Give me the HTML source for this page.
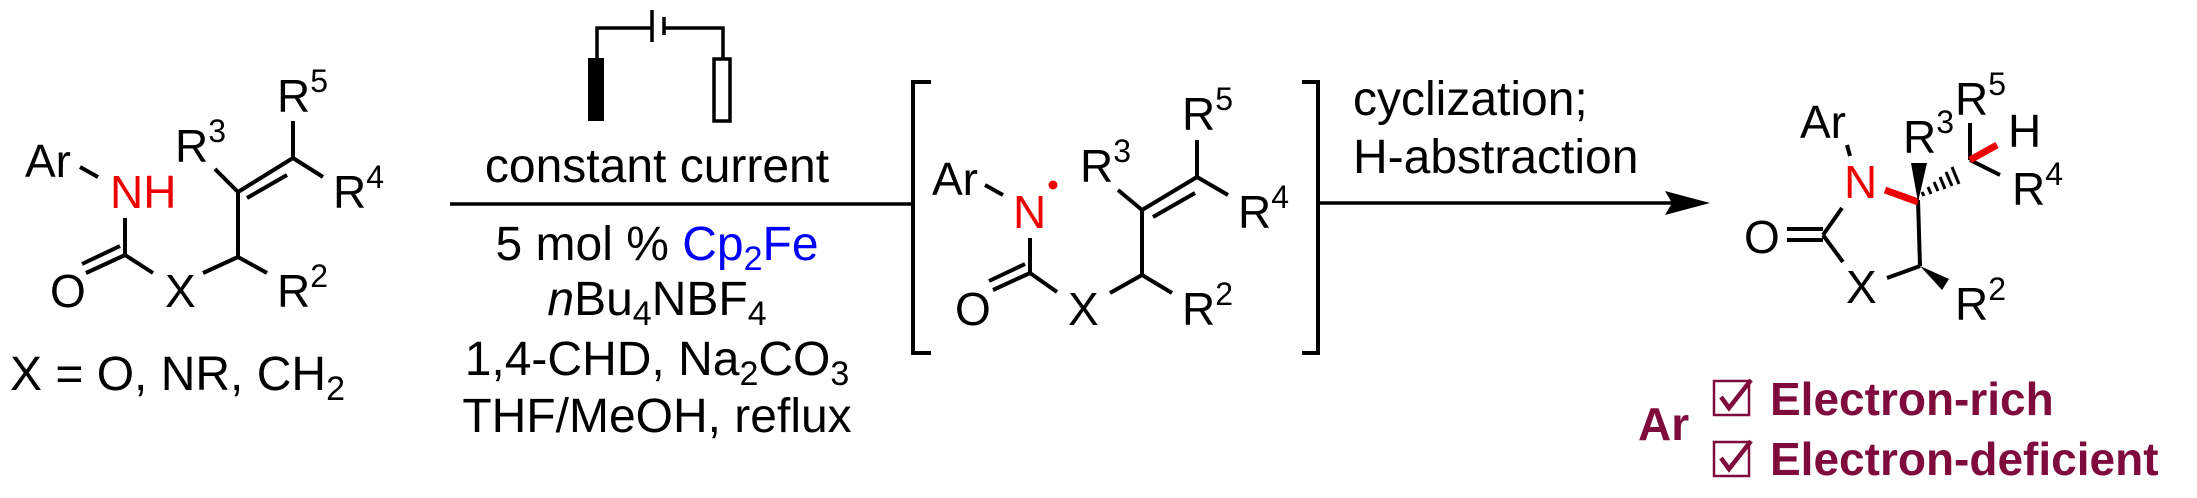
<!DOCTYPE html>
<html><head><meta charset="utf-8"><style>
html,body{margin:0;padding:0;background:#fff;}
svg{display:block;}
text{font-family:"Liberation Sans",sans-serif;}
</style></head><body>
<svg width="2197" height="498" viewBox="0 0 2197 498" xmlns="http://www.w3.org/2000/svg">
<g stroke="#000" stroke-width="4" fill="none" stroke-linecap="butt">
<!-- left molecule -->
<line x1="80" y1="167" x2="98" y2="177"/>
<line x1="125" y1="218" x2="125" y2="255"/>
<line x1="125" y1="255" x2="86" y2="273"/>
<line x1="120" y1="246" x2="82" y2="264"/>
<line x1="125" y1="255" x2="153" y2="273"/>
<line x1="203" y1="273" x2="238" y2="257"/>
<line x1="238" y1="257" x2="267" y2="273"/>
<line x1="238" y1="257" x2="238" y2="192"/>
<line x1="238" y1="192" x2="215" y2="169"/>
<line x1="238" y1="192" x2="293" y2="158"/>
<line x1="247" y1="198" x2="287" y2="175"/>
<line x1="293" y1="158" x2="293" y2="121"/>
<line x1="293" y1="158" x2="323" y2="177"/>
<!-- reaction line 1 -->
<line x1="450" y1="204" x2="912" y2="204" stroke-width="3.5"/>
<!-- electrodes -->
<polyline points="597,58 597,28 652,28" stroke-width="3.5"/>
<polyline points="664,28 723,28 723,58" stroke-width="3.5"/>
<line x1="652" y1="10" x2="652" y2="42" stroke-width="3.5"/>
<line x1="664" y1="17" x2="664" y2="35" stroke-width="3.5"/>
<rect x="714" y="59" width="16" height="62" stroke-width="3.5"/>
<!-- brackets -->
<polyline points="931,82 913,82 913,353 931,353" stroke-width="4"/>
<polyline points="1302,82 1318,82 1318,353 1302,353" stroke-width="4"/>
<!-- middle molecule -->
<line x1="985" y1="185" x2="1003" y2="195"/>
<line x1="1030" y1="238" x2="1030" y2="273"/>
<line x1="1030" y1="273" x2="993" y2="290"/>
<line x1="1025" y1="264" x2="989" y2="281"/>
<line x1="1030" y1="273" x2="1057" y2="292"/>
<line x1="1110" y1="293" x2="1142" y2="275"/>
<line x1="1142" y1="275" x2="1172" y2="293"/>
<line x1="1142" y1="275" x2="1142" y2="210"/>
<line x1="1142" y1="210" x2="1118" y2="190"/>
<line x1="1142" y1="210" x2="1197" y2="177"/>
<line x1="1153" y1="217" x2="1195" y2="193"/>
<line x1="1197" y1="177" x2="1197" y2="140"/>
<line x1="1197" y1="177" x2="1228" y2="195"/>
<!-- reaction line 2 -->
<line x1="1318" y1="203" x2="1672" y2="203" stroke-width="3.5"/>
<!-- product -->
<line x1="1847" y1="145" x2="1850" y2="156"/>
<line x1="1842" y1="208" x2="1823" y2="235"/>
<line x1="1787" y1="229" x2="1823" y2="229"/>
<line x1="1787" y1="240" x2="1823" y2="240"/>
<line x1="1823" y1="235" x2="1843" y2="262"/>
<line x1="1887" y1="278" x2="1920" y2="266"/>
<line x1="1918" y1="200" x2="1920" y2="266"/>
<line x1="1970" y1="160" x2="1970" y2="123"/>
<line x1="1970" y1="160" x2="2000" y2="175"/>
</g>
<rect x="588" y="58" width="16" height="63" fill="#000"/>
<polygon points="1710,203 1665,191 1672,203 1665,215" fill="#000"/>
<!-- product special bonds -->
<line x1="1885" y1="190" x2="1918" y2="202" stroke="#e00" stroke-width="7"/>
<line x1="1970" y1="160" x2="1997" y2="145" stroke="#e00" stroke-width="7"/>
<polygon points="1918,202 1911,163 1927,163" fill="#000"/>
<polygon points="1920,266 1949,279 1942,290" fill="#000"/>
<g stroke="#000" stroke-width="3">
<line x1="1924" y1="196" x2="1922" y2="192"/>
<line x1="1931" y1="194" x2="1928" y2="187"/>
<line x1="1938" y1="191" x2="1934" y2="182"/>
<line x1="1945" y1="189" x2="1940" y2="177"/>
<line x1="1952" y1="186" x2="1946" y2="172"/>
<line x1="1959" y1="184" x2="1952" y2="167"/>
</g>
<circle cx="1053" cy="185" r="4.5" fill="#e00"/>

<g font-size="46" fill="#000">
<!-- left -->
<text x="25" y="177">Ar</text>
<text x="110" y="208" fill="#e00">NH</text>
<text x="50" y="307">O</text>
<text x="165" y="307">X</text>
<text x="277" y="307">R<tspan font-size="32" dy="-20">2</tspan></text>
<text x="175" y="162">R<tspan font-size="32" dy="-20">3</tspan></text>
<text x="277" y="112">R<tspan font-size="32" dy="-20">5</tspan></text>
<text x="333" y="208">R<tspan font-size="32" dy="-20">4</tspan></text>
<text x="10" y="390" font-size="48">X = O, NR, CH<tspan font-size="34" dy="10">2</tspan></text>
<!-- conditions -->
<text x="657" y="182" font-size="48" text-anchor="middle">constant current</text>
<text x="657" y="260" font-size="48" text-anchor="middle">5 mol % <tspan fill="#00f">Cp<tspan font-size="34" dy="10">2</tspan><tspan dy="-10">Fe</tspan></tspan></text>
<text x="657" y="315" font-size="48" text-anchor="middle"><tspan font-style="italic">n</tspan>Bu<tspan font-size="34" dy="10">4</tspan><tspan dy="-10">NBF</tspan><tspan font-size="34" dy="10">4</tspan></text>
<text x="657" y="375" font-size="48" text-anchor="middle">1,4-CHD, Na<tspan font-size="34" dy="10">2</tspan><tspan dy="-10">CO</tspan><tspan font-size="34" dy="10">3</tspan></text>
<text x="657" y="432" font-size="48" text-anchor="middle">THF/MeOH, reflux</text>
<!-- middle -->
<text x="932" y="195">Ar</text>
<text x="1013" y="228" fill="#e00">N</text>
<text x="955" y="325">O</text>
<text x="1068" y="325">X</text>
<text x="1182" y="325">R<tspan font-size="32" dy="-20">2</tspan></text>
<text x="1080" y="182">R<tspan font-size="32" dy="-20">3</tspan></text>
<text x="1182" y="130">R<tspan font-size="32" dy="-20">5</tspan></text>
<text x="1238" y="228">R<tspan font-size="32" dy="-20">4</tspan></text>
<text x="1353" y="115" font-size="48">cyclization;</text>
<text x="1353" y="173" font-size="48">H-abstraction</text>
<!-- product -->
<text x="1800" y="138">Ar</text>
<text x="1844" y="198" fill="#e00">N</text>
<text x="1744" y="253">O</text>
<text x="1846" y="303">X</text>
<text x="1955" y="320">R<tspan font-size="32" dy="-20">2</tspan></text>
<text x="1903" y="153">R<tspan font-size="32" dy="-20">3</tspan></text>
<text x="1955" y="115">R<tspan font-size="32" dy="-20">5</tspan></text>
<text x="2008" y="147">H</text>
<text x="2012" y="205">R<tspan font-size="32" dy="-20">4</tspan></text>
</g>
<!-- bottom right -->
<g fill="#7f0a3c" font-weight="bold" font-size="46">
<text x="1638" y="440">Ar</text>
<text x="1770" y="415">Electron-rich</text>
<text x="1770" y="475">Electron-deficient</text>
</g>
<g stroke="#7f0a3c" fill="none">
<rect x="1714" y="381" width="35" height="34" stroke-width="2.5"/>
<rect x="1714" y="442" width="35" height="34" stroke-width="2.5"/>
<polyline points="1721,397 1729,408 1751,380" stroke-width="4.5"/>
<polyline points="1721,458 1729,469 1751,441" stroke-width="4.5"/>
</g>
</svg>
</body></html>
